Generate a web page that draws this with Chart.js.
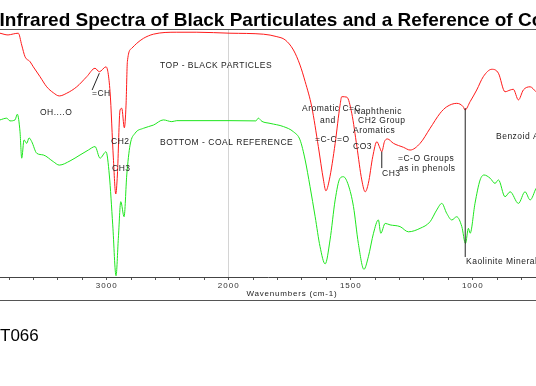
<!DOCTYPE html>
<html>
<head>
<meta charset="utf-8">
<script src="https://cdn.jsdelivr.net/npm/chart.js@4.4.1/dist/chart.umd.min.js"></script>
<style>
  html, body { margin: 0; padding: 0; background: #fff; }
  canvas { display: block; }
</style>
</head>
<body>
<canvas id="c" width="536" height="386"></canvas>
<script>
// ---- Data (wavenumbers in cm-1, values in % transmittance-like units) ----
const redWavenumbers = [3875,3809,3766,3725,3697,3670,3629,3602,3547,3492,3438,3389,3328,3246,3164,3096,3061,3006,2973,2946,2926,2913,2891,2877,2856,2842,2831,2795,2754,2700,2618,2426,2262,1995,1858,1803,1769,1735,1708,1687,1660,1633,1612,1602,1588,1564,1544,1537,1516,1496,1475,1455,1441,1428,1410,1393,1383,1373,1362,1350,1325,1284,1257,1216,1175,1134,1107,1066,1039,1032,1011,984,957,922,895,868,847,834,813,793,765,741];
const redValues      = [98.7,98.0,98.4,98.7,93.9,89.2,87.2,85.1,81.1,77.0,74.6,73.3,74.4,77.0,81.1,84.5,83.1,85.1,75.0,48.2,33.6,41.3,67.6,68.3,60.4,69.6,87.2,92.6,94.6,96.6,98.3,99.1,99.1,98.7,98.3,97.3,96.0,91.9,85.8,79.1,68.9,52.8,39.3,34.9,39.3,54.1,69.6,73.0,72.8,66.3,52.8,39.3,34.5,37.9,48.7,54.8,52.8,50.7,54.8,55.9,54.1,52.5,51.4,54.1,60.2,66.3,68.9,70.3,68.9,67.6,71.0,75.7,81.1,84.1,82.5,75.0,75.7,76.0,71.7,75.7,77.0,75.0];

const greenWavenumbers = [3875,3820,3793,3752,3733,3711,3697,3678,3656,3637,3615,3574,3520,3438,3389,3301,3219,3151,3096,3055,3006,2979,2951,2924,2905,2885,2858,2836,2809,2768,2700,2618,2536,2467,2426,1995,1889,1879,1864,1831,1776,1735,1708,1687,1667,1646,1626,1605,1585,1564,1544,1530,1510,1489,1469,1446,1428,1407,1387,1377,1359,1339,1298,1264,1216,1175,1148,1127,1107,1086,1066,1045,1030,1018,1011,991,970,954,929,909,895,868,847,813,786,765,741];
const greenValues      = [63.6,64.3,63.2,63.6,65.9,58.8,48.1,55.5,54.1,56.3,54.8,50.1,49.4,46.7,45.3,47.0,49.4,51.4,52.8,48.1,50.7,41.3,21.1,0.5,15.7,30.5,24.4,41.3,53.4,58.2,60.2,61.5,63.6,62.9,63.3,63.3,63.2,64.3,63.0,62.2,60.9,58.8,55.5,47.4,36.6,24.4,12.3,5.3,15.0,31.2,40.0,40.6,37.2,28.5,13.6,3.1,8.2,17.7,23.1,17.7,21.7,21.1,20.4,18.3,19.7,22.4,27.1,29.8,25.8,23.1,24.4,20.4,13.6,19.7,17.7,29.8,39.3,41.3,40.0,37.9,39.3,32.5,34.5,29.8,34.5,31.2,35.9];

const tickLabels = [3000, 2000, 1500, 1000];
const xRange = [741, 3875];

const titleText = 'Infrared Spectra of Black Particulates and a Reference of Coal';
const axisTitle = 'Wavenumbers (cm-1)';
const sampleText = 'T066';

// split axis: region above 2000 cm-1 compressed by 2
const u = v => v <= 2000 ? v : 2000 + (v - 2000) / 2;
const inv = w => w <= 2000 ? w : 2000 + (w - 2000) * 2;

const toPts = (xs, ys) => xs.map((v, i) => ({ x: u(v), y: ys[i] }));

const notes = [
  { t: 'TOP - BLACK PARTICLES', x: 160, y: 66 },
  { t: 'BOTTOM - COAL REFERENCE', x: 160, y: 143 },
  { t: 'OH....O', x: 40, y: 113 },
  { t: '=CH', x: 92, y: 94 },
  { t: 'CH2', x: 111, y: 142 },
  { t: 'CH3', x: 112, y: 169 },
  { t: 'Aromatic C=C', x: 302, y: 108.5 },
  { t: 'and', x: 320, y: 121 },
  { t: '=C-C=O', x: 315, y: 140 },
  { t: 'Naphthenic', x: 354, y: 112 },
  { t: 'CH2 Group', x: 358, y: 121 },
  { t: 'Aromatics', x: 353, y: 131 },
  { t: 'CO3', x: 353, y: 147 },
  { t: 'CH3', x: 382, y: 174 },
  { t: '=C-O Groups', x: 398, y: 159 },
  { t: 'as in phenols', x: 399, y: 169 },
  { t: 'Benzoid Aromatics', x: 496, y: 137 },
  { t: 'Kaolinite Mineral', x: 466, y: 262 }
];
// leader lines in data coordinates [wavenumber, value] -> [wavenumber, value]
const leaders = [
  [[3120, 75.7], [3061, 82.5]],
  [[1373, 50.7], [1373, 44.1]],
  [[1031, 68.4], [1031, 8.1]]
];

const overlay = {
  id: 'overlay',
  beforeDraw(chart) {
    chart.ctx.letterSpacing = '1px';
  },
  afterDraw(chart) {
    const ctx = chart.ctx;
    const xs = chart.scales.x, ys = chart.scales.y;
    ctx.save();
    ctx.letterSpacing = '0px';
    // frame lines
    ctx.strokeStyle = '#555';
    ctx.lineWidth = 1;
    ctx.beginPath();
    ctx.moveTo(0, 29.5); ctx.lineTo(536, 29.5);
    ctx.moveTo(0, 300.5); ctx.lineTo(536, 300.5);
    ctx.stroke();
    // title
    ctx.fillStyle = '#000';
    ctx.font = 'bold 19px Arial, "Liberation Sans", sans-serif';
    ctx.textBaseline = 'alphabetic';
    ctx.textAlign = 'left';
    ctx.fillText(titleText, -0.5, 26);
    // sample id
    ctx.font = '17px Arial, "Liberation Sans", sans-serif';
    ctx.fillText(sampleText, 0, 341);
    // axis title
    ctx.letterSpacing = '0.8px';
    ctx.font = '8px Arial, "Liberation Sans", sans-serif';
    ctx.fillStyle = '#222';
    ctx.textAlign = 'center';
    ctx.textBaseline = 'middle';
    ctx.fillText(axisTitle, 292, 293.5);
    // annotations
    ctx.letterSpacing = '0.5px';
    ctx.font = '8.5px Arial, "Liberation Sans", sans-serif';
    ctx.textAlign = 'left';
    notes.forEach(n => ctx.fillText(n.t, n.x, n.y));
    // leader lines
    ctx.strokeStyle = '#222';
    ctx.lineWidth = 1;
    leaders.forEach(([a, b]) => {
      ctx.beginPath();
      ctx.moveTo(xs.getPixelForValue(u(a[0])), ys.getPixelForValue(a[1]));
      ctx.lineTo(xs.getPixelForValue(u(b[0])), ys.getPixelForValue(b[1]));
      ctx.stroke();
    });
    ctx.restore();
    ctx.letterSpacing = '0px';
  }
};

new Chart(document.getElementById('c'), {
  type: 'line',
  data: {
    datasets: [
      { data: toPts(redWavenumbers, redValues), borderColor: '#ff1a1a', borderWidth: 1, pointRadius: 0, cubicInterpolationMode: 'monotone', fill: false },
      { data: toPts(greenWavenumbers, greenValues), borderColor: '#1ee61e', borderWidth: 1, pointRadius: 0, cubicInterpolationMode: 'monotone', fill: false }
    ]
  },
  options: {
    responsive: false,
    animation: false,
    devicePixelRatio: 1,
    layout: { padding: { top: 30, left: 0, right: 0, bottom: 85 } },
    plugins: { legend: { display: false }, tooltip: { enabled: false }, title: { display: false } },
    scales: {
      x: {
        type: 'linear',
        reverse: true,
        min: u(xRange[0]),
        max: u(xRange[1]),
        afterBuildTicks(scale) {
          const t = [];
          for (let v = 800; v < 2000; v += 100) t.push({ value: u(v) });
          for (let v = 2000; v <= 3800; v += 200) t.push({ value: u(v) });
          scale.ticks = t;
        },
        afterFit(scale) { scale.height = 24; },
        ticks: {
          autoSkip: false,
          maxRotation: 0,
          padding: 1,
          color: '#333',
          font: { family: 'Arial, "Liberation Sans", sans-serif', size: 8 },
          callback: (val) => {
            const w = Math.round(inv(val));
            return tickLabels.includes(w) ? String(w) : '';
          }
        },
        grid: {
          drawOnChartArea: true,
          color: (c) => (c.tick && Math.round(inv(c.tick.value)) === 2000) ? '#d4d4d4' : 'rgba(0,0,0,0)',
          tickColor: '#555',
          tickLength: 3,
          lineWidth: 1
        },
        border: { display: true, color: '#444', width: 1 }
      },
      y: { display: false, min: 0, max: 100 }
    }
  },
  plugins: [overlay]
});
</script>
</body>
</html>
